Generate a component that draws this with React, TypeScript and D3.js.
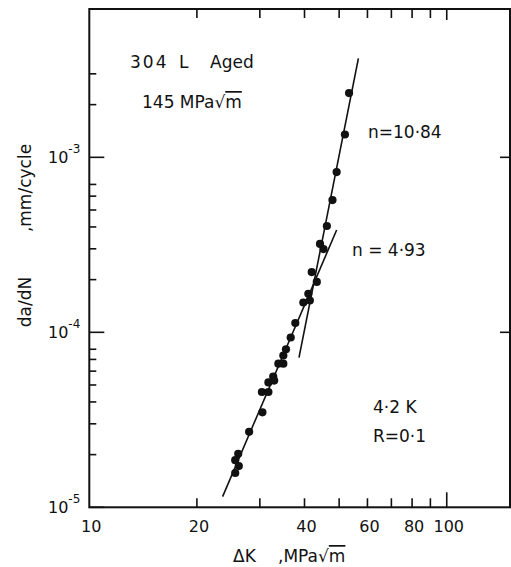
import * as d3 from "d3";

// crack growth data, 304L aged, 4.2 K
const deltaK = [
  53.3, 51.9, 49.2, 47.9, 46.2, 44.2, 45.2, 41.9, 43.3, 41.0, 39.7, 41.4, 37.7, 36.6, 35.5,
  34.9, 33.8, 34.9, 32.7, 31.7, 32.9, 30.4, 31.7, 30.5, 28.0, 26.1, 25.6, 26.2, 25.6,
];
const dadN = [
  2.33e-3, 1.35e-3, 8.24e-4, 5.7e-4, 4.05e-4, 3.2e-4, 2.99e-4, 2.21e-4, 1.94e-4, 1.66e-4,
  1.48e-4, 1.52e-4, 1.13e-4, 9.34e-5, 8.0e-5, 7.37e-5, 6.62e-5, 6.62e-5, 5.59e-5, 5.17e-5,
  5.3e-5, 4.56e-5, 4.56e-5, 3.49e-5, 2.7e-5, 2.02e-5, 1.86e-5, 1.72e-5, 1.57e-5,
];

// fitted lines: [dK, da/dN] endpoints
const fitSteep = [[56.6, 3.68e-3], [38.6, 7.16e-5]];
const fitShallow = [[49.2, 3.84e-4], [23.6, 1.15e-5]];

const xMinor = [20, 30, 40, 50, 60, 70, 80, 90];
const xMajor = [100];
const xLabels = [10, 20, 40, 60, 80, 100];
const yMajor = [1e-5, 1e-4, 1e-3];
const yMinor = [2e-5, 3e-5, 4e-5, 5e-5, 6e-5, 7e-5, 8e-5, 2e-4, 3e-4, 4e-4, 5e-4, 6e-4, 7e-4, 2e-3, 3e-3];
const yLabelExp = ["-5", "-4", "-3"];

const W = 511;
const H = 567;
const left = 89.3;
const right = 510;
const top = 9;
const bottom = 507.3;

const font = "'DejaVu Sans', sans-serif";

export default function App() {
  const x = d3.scaleLog().domain([10, 150.3]).range([left, right]);
  const y = d3.scaleLog().domain([1e-5, 7.04e-3]).range([bottom, top]);

  const line = d3
    .line<number[]>()
    .x((d) => x(d[0]))
    .y((d) => y(d[1]));

  return (
    <svg
      width={W}
      height={H}
      style={{ position: "absolute", left: 0, top: 0, background: "#fff" }}
      fontFamily={font}
    >
      <rect x={0} y={0} width={W} height={H} fill="#fff" />

      {/* frame */}
      <rect
        x={left}
        y={top}
        width={right - left}
        height={bottom - top}
        fill="none"
        stroke="#111"
        strokeWidth={2}
      />

      {/* x ticks bottom and top */}
      {xMinor.map((t) => (
        <g key={"xm" + t}>
          <line x1={x(t)} x2={x(t)} y1={bottom} y2={bottom - 9} stroke="#111" strokeWidth={1.6} />
          <line x1={x(t)} x2={x(t)} y1={top} y2={top + 9} stroke="#111" strokeWidth={1.6} />
        </g>
      ))}
      {xMajor.map((t) => (
        <g key={"xM" + t}>
          <line x1={x(t)} x2={x(t)} y1={bottom} y2={bottom - 15} stroke="#111" strokeWidth={1.6} />
          <line x1={x(t)} x2={x(t)} y1={top} y2={top + 11} stroke="#111" strokeWidth={1.6} />
        </g>
      ))}
      {xLabels.map((t) => (
        <text key={"xl" + t} x={x(t) + 2} y={532} fontSize={16} textAnchor="middle" fill="#111">
          {t}
        </text>
      ))}

      {/* y ticks */}
      {yMinor.map((t) => (
        <line key={"ym" + t} x1={left} x2={left + 7} y1={y(t)} y2={y(t)} stroke="#111" strokeWidth={1.6} />
      ))}
      {yMajor.map((t, i) => (
        <g key={"yM" + t}>
          <line x1={left} x2={left + 15} y1={y(t)} y2={y(t)} stroke="#111" strokeWidth={1.6} />
          {i > 0 && (
            <line x1={right - 10} x2={right} y1={y(t)} y2={y(t)} stroke="#111" strokeWidth={1.6} />
          )}
          <text x={48} y={y(t) + 6} fontSize={16} fill="#111">
            10
            <tspan dy={-10} fontSize={12}>
              {yLabelExp[i]}
            </tspan>
          </text>
        </g>
      ))}

      {/* fitted lines */}
      <path d={line(fitSteep) ?? ""} fill="none" stroke="#111" strokeWidth={1.6} />
      <path d={line(fitShallow) ?? ""} fill="none" stroke="#111" strokeWidth={1.6} />

      {/* data */}
      {deltaK.map((k, i) => (
        <circle key={"p" + i} cx={x(k)} cy={y(dadN[i])} r={4.1} fill="#111" />
      ))}

      {/* annotations */}
      <text x={130} y={68} fontSize={17} fill="#111" letterSpacing={2}>304</text>
      <text x={179} y={68} fontSize={17} fill="#111">L</text>
      <text x={210} y={68} fontSize={17} fill="#111">Aged</text>
      <text x={142} y={108} fontSize={17} fill="#111">
        145 MPa√<tspan style={{ textDecoration: "overline" }}>m</tspan>
      </text>
      <text x={368} y={138} fontSize={17} fill="#111">n=10·84</text>
      <text x={352} y={256} fontSize={17} fill="#111">n = 4·93</text>
      <text x={373} y={413} fontSize={17} fill="#111">4·2 K</text>
      <text x={373} y={442} fontSize={17} fill="#111">R=0·1</text>

      {/* axis titles */}
      <text x={233} y={562} fontSize={17} fill="#111">ΔK</text>
      <text x={278} y={562} fontSize={17} fill="#111">
        ,MPa√<tspan style={{ textDecoration: "overline" }}>m</tspan>
      </text>
      <text transform="translate(31,302) rotate(-90)" fontSize={17} textAnchor="middle" fill="#111">
        da/dN
      </text>
      <text transform="translate(31,188) rotate(-90)" fontSize={17} textAnchor="middle" fill="#111">
        ,mm/cycle
      </text>
    </svg>
  );
}
